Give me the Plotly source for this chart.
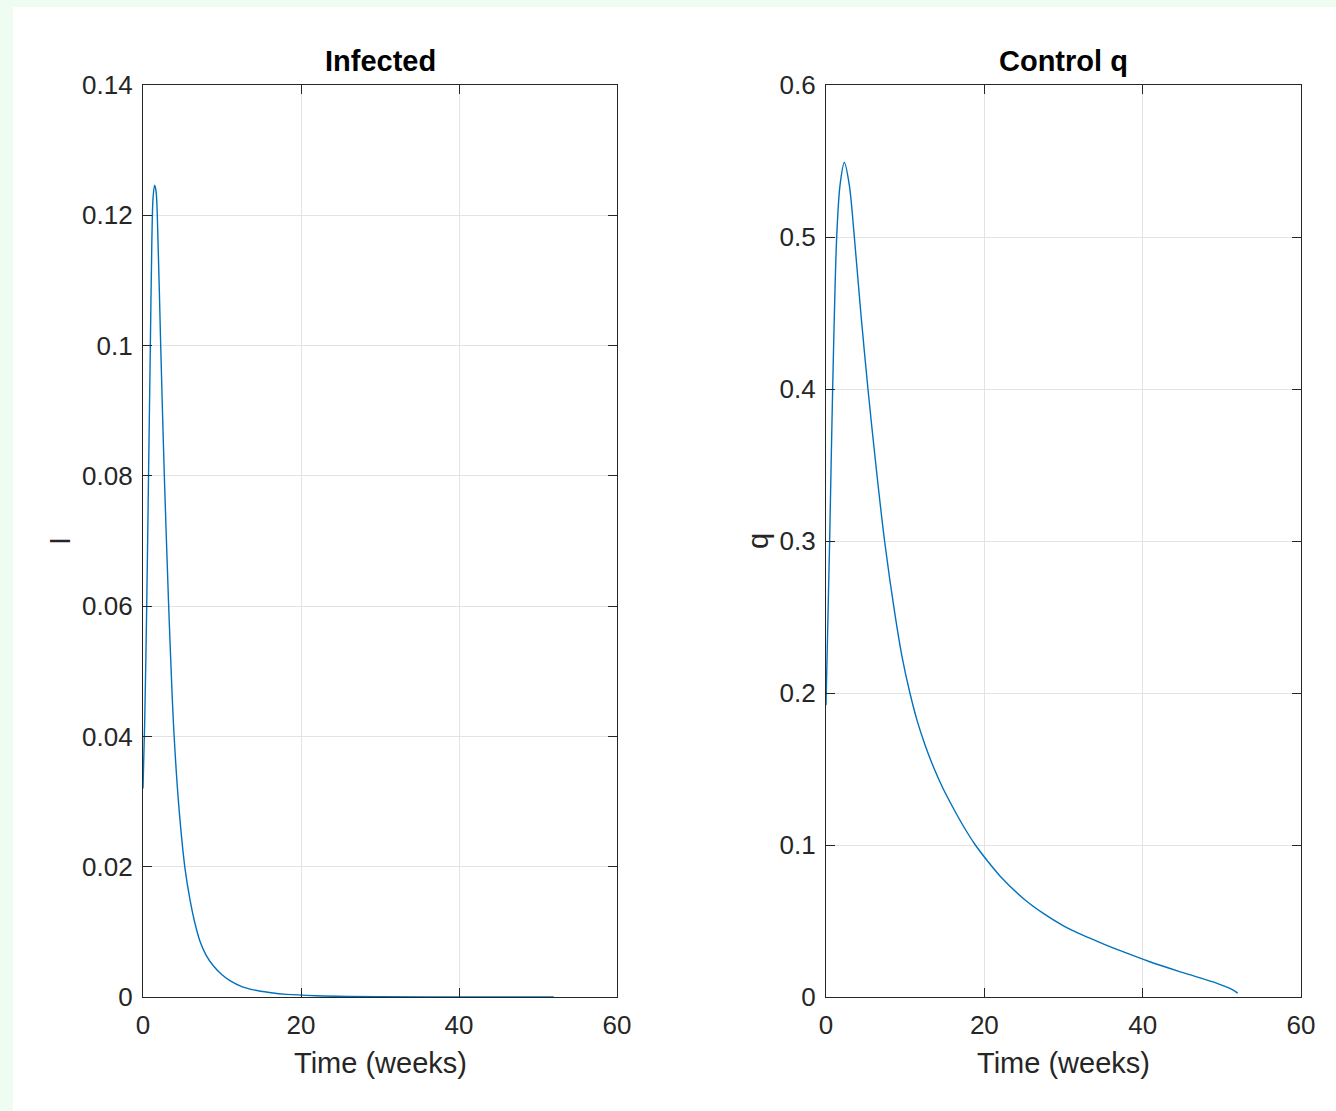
import plotly.graph_objects as go

# ---- data ----
t_infected = [0, 0.21, 0.47, 0.70, 0.93, 1.12, 1.28, 1.48, 1.66, 1.81, 2.24, 2.7, 3.25, 3.6,
              3.92, 4.52, 5.32, 5.95, 6.5, 7.2, 8.0, 8.9, 10.0, 11.0, 12.5, 14.0, 16.0, 18.2,
              22, 26, 30, 40, 52]
infected = [0.032, 0.042, 0.06, 0.08, 0.10, 0.116, 0.1228, 0.1246, 0.1236, 0.12, 0.10, 0.08, 0.06,
            0.049, 0.0405, 0.0295, 0.0197, 0.0149, 0.0117, 0.0086, 0.0064, 0.0048, 0.0034, 0.0025,
            0.0016, 0.0011, 0.0007, 0.0004, 0.0002, 0.0001, 0.00005, 0.00001, 0.0]

t_control = [0, 0.46, 0.84, 1.35, 1.77, 2.32, 2.95, 3.58, 4.4, 5.3, 6.3, 7.4, 8.7, 9.6,
             10.6, 11.5, 12.5, 13.6, 14.8, 16.0, 17.4, 18.8, 20.4, 22, 25, 27.5, 30, 32.5, 35,
             37.5, 40.9, 45, 49.4, 51.2, 52]
control_q = [0.192, 0.3, 0.4, 0.5, 0.534, 0.549, 0.534, 0.5, 0.45, 0.4, 0.35, 0.3, 0.252, 0.224,
             0.2, 0.182, 0.166, 0.151, 0.137, 0.125, 0.112, 0.1005, 0.0895, 0.0795, 0.0645, 0.0548,
             0.0468, 0.0405, 0.035, 0.0298, 0.0232, 0.0162, 0.009, 0.0052, 0.0026]

x_ticks = [0, 20, 40, 60]
y1_ticks = [0, 0.02, 0.04, 0.06, 0.08, 0.1, 0.12, 0.14]
y1_labels = ["0", "0.02", "0.04", "0.06", "0.08", "0.1", "0.12", "0.14"]
y2_ticks = [0, 0.1, 0.2, 0.3, 0.4, 0.5, 0.6]
y2_labels = ["0", "0.1", "0.2", "0.3", "0.4", "0.5", "0.6"]

titles = ["Infected", "Control q"]
ylabels = ["I", "q"]
xlabel = "Time (weeks)"

# ---- layout geometry ----
W, H = 1336, 1111
LINE = "#0072BD"
AX = "#262626"
GRID = "#e3e3e3"
FONT = "Liberation Sans, Arial, Helvetica, sans-serif"

dom1 = [143 / W, 617 / W]
dom2 = [826 / W, 1301 / W]
ydom = [(H - 997) / H, (H - 85) / H]

fig = go.Figure()
fig.add_trace(go.Scatter(x=t_infected, y=infected, mode="lines",
                         line=dict(color=LINE, width=1.4, shape="spline", smoothing=0.9),
                         xaxis="x", yaxis="y", showlegend=False))
fig.add_trace(go.Scatter(x=t_control, y=control_q, mode="lines",
                         line=dict(color=LINE, width=1.4, shape="spline", smoothing=0.9),
                         xaxis="x2", yaxis="y2", showlegend=False))

common = dict(showline=True, linecolor=AX, linewidth=1.3, mirror="allticks", ticks="inside",
              ticklen=9, tickcolor=AX, tickwidth=1.3, showgrid=True, gridcolor=GRID, gridwidth=1,
              zeroline=False, automargin=False, tickfont=dict(family=FONT, size=26, color=AX))

fig.update_layout(
    template="none",
    width=W, height=H,
    margin=dict(l=0, r=0, t=0, b=0, pad=0, autoexpand=False),
    paper_bgcolor="#eefcf2",
    plot_bgcolor="white",
    xaxis=dict(domain=dom1, range=[0, 60], tickvals=x_ticks, anchor="y", ticklabelstandoff=5, **common),
    yaxis=dict(domain=ydom, range=[0, 0.14], tickvals=y1_ticks, ticktext=y1_labels, anchor="x",
               ticklabelstandoff=4, **common),
    xaxis2=dict(domain=dom2, range=[0, 60], tickvals=x_ticks, anchor="y2", ticklabelstandoff=5, **common),
    yaxis2=dict(domain=ydom, range=[0, 0.6], tickvals=y2_ticks, ticktext=y2_labels, anchor="x2",
                ticklabelstandoff=4, **common),
    shapes=[dict(type="rect", xref="paper", yref="paper", x0=13 / W, x1=1.0, y0=0.0, y1=(H - 7) / H,
                 fillcolor="white", line=dict(width=0), layer="below")],
)

anns = []
for dom, title, ylab, yoff in [(dom1, titles[0], ylabels[0], 83), (dom2, titles[1], ylabels[1], 68)]:
    cx = (dom[0] + dom[1]) / 2
    anns.append(dict(text="<b>%s</b>" % title, x=cx, y=(H - 61) / H, xref="paper", yref="paper",
                     xanchor="center", yanchor="middle", showarrow=False,
                     font=dict(family=FONT, size=29, color="black")))
    anns.append(dict(text=xlabel, x=cx, y=(H - 1063) / H, xref="paper", yref="paper",
                     xanchor="center", yanchor="middle", showarrow=False,
                     font=dict(family=FONT, size=29, color=AX)))
    anns.append(dict(text=ylab, x=dom[0] - yoff / W, y=(H - 541) / H, xref="paper", yref="paper",
                     xanchor="center", yanchor="middle", showarrow=False, textangle=-90,
                     font=dict(family=FONT, size=29, color=AX)))
fig.update_layout(annotations=anns)

fig.write_html("out.html", post_script="document.body.style.margin='0';")
